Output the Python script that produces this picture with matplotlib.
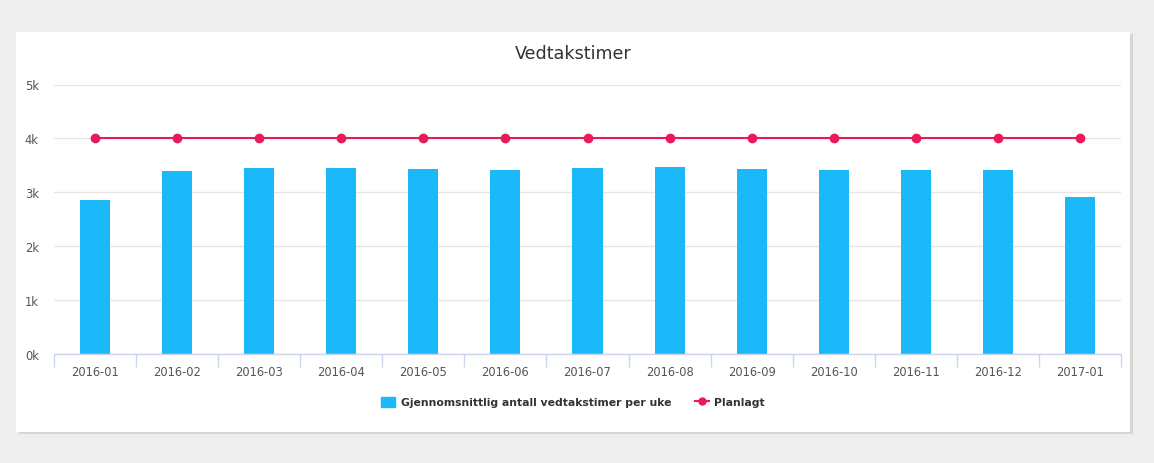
import matplotlib.pyplot as plt
from matplotlib.patches import Rectangle
from matplotlib.ticker import FuncFormatter, FixedLocator
from matplotlib.lines import Line2D

# data
months = ['2016-01', '2016-02', '2016-03', '2016-04', '2016-05', '2016-06', '2016-07',
          '2016-08', '2016-09', '2016-10', '2016-11', '2016-12', '2017-01']
avg_hours = [2850, 3390, 3450, 3450, 3430, 3410, 3450, 3470, 3430, 3410, 3410, 3410, 2910]
planned = [4000] * 13

bar_color = '#1bb9f9'
line_color = '#e91a5a'
W, H = 1154, 464

plt.rcParams['font.family'] = ['DejaVu Sans']
fig = plt.figure(figsize=(W / 100, H / 100), dpi=100)
fig.patch.set_facecolor('#eeeeee')

# card with shadow
fig.patches.append(Rectangle((19 / W, 1 - 435 / H), 1114 / W, 400 / H,
                             transform=fig.transFigure, facecolor='#d6d6d6', edgecolor='none', zorder=0))
fig.patches.append(Rectangle((16 / W, 1 - 432.5 / H), 1114 / W, 400 / H,
                             transform=fig.transFigure, facecolor='white', edgecolor='none', zorder=0.5))

ax = fig.add_axes([54 / W, 1 - 355 / H, 1067 / W, (355 - 85.5) / H])
ax.set_zorder(5)
ax.set_facecolor('none')
x = list(range(len(months)))
ax.bar(x, avg_hours, width=0.366, color=bar_color, zorder=2)
ax.plot(x, planned, color=line_color, lw=1.5, marker='o', markersize=6, zorder=3)

ax.set_xlim(-0.5, len(months) - 0.5)
ax.set_ylim(0, 5000)
ax.set_yticks([0, 1000, 2000, 3000, 4000, 5000])
ax.yaxis.set_major_formatter(FuncFormatter(lambda v, p: f'{int(v / 1000)}k'))
ax.grid(axis='y', color='#e6e6e6', lw=1, zorder=0)
ax.set_axisbelow(True)

ax.set_xticks(x)
ax.set_xticklabels(months)
ax.tick_params(axis='x', length=0, pad=8, labelsize=8.3, labelcolor='#555555')
ax.xaxis.set_minor_locator(FixedLocator([i - 0.5 for i in range(len(months) + 1)]))
ax.tick_params(axis='x', which='minor', length=9, width=1, color='#ccd6eb')
ax.tick_params(axis='y', length=0, pad=11, labelsize=8.3, labelcolor='#555555')

for s in ['top', 'right', 'left']:
    ax.spines[s].set_visible(False)
ax.spines['bottom'].set_color('#ccd6eb')
ax.spines['bottom'].set_linewidth(1)

fig.text(573 / W, 1 - 54 / H, 'Vedtakstimer', ha='center', va='center', fontsize=12.6,
         color='#333333', zorder=6)

handles = [Rectangle((0, 0), 1, 1, color=bar_color),
           Line2D([0], [0], color=line_color, lw=1.5, marker='o', markersize=5)]
leg = fig.legend(handles, ['Gjennomsnittlig antall vedtakstimer per uke', 'Planlagt'],
                 loc='center', bbox_to_anchor=(573 / W, 1 - 403 / H), ncol=2, frameon=False,
                 prop={'weight': 'bold', 'size': 7.8}, labelcolor='#333333',
                 handlelength=1.3, handleheight=1.1, columnspacing=2.2, handletextpad=0.5)
leg.set_zorder(6)

fig.savefig('out.png', dpi=100, facecolor=fig.get_facecolor())
